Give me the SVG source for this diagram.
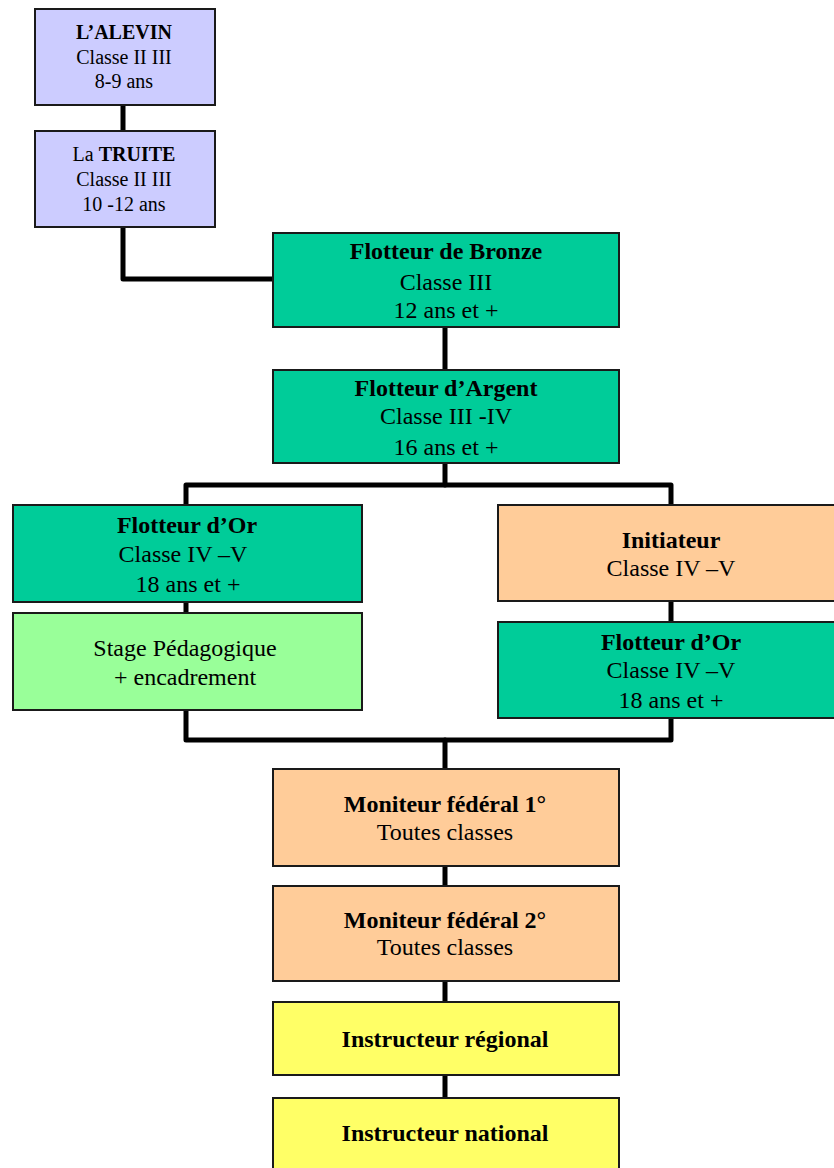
<svg xmlns="http://www.w3.org/2000/svg" width="834" height="1168" viewBox="0 0 834 1168">
<style>
.box{stroke:#1a1a1a;stroke-width:2}
.lav{fill:#CCCCFF}
.grn{fill:#00CC99}
.lgr{fill:#99FF99}
.pch{fill:#FFCC99}
.yel{fill:#FFFF66}
text{font-family:"Liberation Serif","Times New Roman",serif;fill:#000;text-anchor:middle}
.s{font-size:20px}
.m{font-size:24px}
.b{font-weight:bold}
.c{fill:none;stroke:#000;stroke-width:5;stroke-linecap:round;stroke-linejoin:round}
</style>
<rect width="834" height="1168" fill="#fff"/>
<g id="connectors">
<path class="c" d="M123 105V131"/>
<path class="c" d="M123 227V279H273"/>
<path class="c" d="M445 327V370"/>
<path class="c" d="M445 463V485"/>
<path class="c" d="M186 505V485H671V505"/>
<path class="c" d="M186 602V613"/>
<path class="c" d="M671 601V622"/>
<path class="c" d="M186 710V740H671V718"/>
<path class="c" d="M445 740V769"/>
<path class="c" d="M445 866V886"/>
<path class="c" d="M445 981V1002"/>
<path class="c" d="M445 1075V1098"/>
</g>
<g id="alevin">
<rect class="box lav" x="35" y="9" width="180" height="96"/>
<text class="s b" x="124" y="39">L’ALEVIN</text>
<text class="s" x="124" y="64">Classe II III</text>
<text class="s" x="124" y="88">8-9 ans</text>
</g>
<g id="truite">
<rect class="box lav" x="35" y="131" width="180" height="96"/>
<text class="s" x="124" y="161">La <tspan class="b">TRUITE</tspan></text>
<text class="s" x="124" y="186">Classe II III</text>
<text class="s" x="124" y="211">10 -12 ans</text>
</g>
<g id="bronze">
<rect class="box grn" x="273" y="233" width="346" height="94"/>
<text class="m b" x="446" y="259">Flotteur de Bronze</text>
<text class="m" x="446" y="290">Classe III</text>
<text class="m" x="446" y="318">12 ans et +</text>
</g>
<g id="argent">
<rect class="box grn" x="273" y="370" width="346" height="93"/>
<text class="m b" x="446" y="396">Flotteur d’Argent</text>
<text class="m" x="446" y="424">Classe III -IV</text>
<text class="m" x="446" y="455">16 ans et +</text>
</g>
<g id="or-gauche">
<rect class="box grn" x="13" y="505" width="349" height="97"/>
<text class="m b" x="187" y="533">Flotteur d’Or</text>
<text class="m" x="183" y="562">Classe IV –V</text>
<text class="m" x="188" y="592">18 ans et +</text>
</g>
<g id="stage">
<rect class="box lgr" x="13" y="613" width="349" height="97"/>
<text class="m" x="185" y="656">Stage Pédagogique</text>
<text class="m" x="185" y="685">+ encadrement</text>
</g>
<g id="initiateur">
<rect class="box pch" x="498" y="505" width="346" height="96"/>
<text class="m b" x="671" y="548">Initiateur</text>
<text class="m" x="671" y="576">Classe IV –V</text>
</g>
<g id="or-droite">
<rect class="box grn" x="498" y="622" width="346" height="96"/>
<text class="m b" x="671" y="650">Flotteur d’Or</text>
<text class="m" x="671" y="678">Classe IV –V</text>
<text class="m" x="671" y="708">18 ans et +</text>
</g>
<g id="moniteur1">
<rect class="box pch" x="273" y="769" width="346" height="97"/>
<text class="m b" x="445" y="812">Moniteur fédéral 1°</text>
<text class="m" x="445" y="840">Toutes classes</text>
</g>
<g id="moniteur2">
<rect class="box pch" x="273" y="886" width="346" height="95"/>
<text class="m b" x="445" y="928">Moniteur fédéral 2°</text>
<text class="m" x="445" y="955">Toutes classes</text>
</g>
<g id="regional">
<rect class="box yel" x="273" y="1002" width="346" height="73"/>
<text class="m b" x="445" y="1047">Instructeur régional</text>
</g>
<g id="national">
<rect class="box yel" x="273" y="1098" width="346" height="90"/>
<text class="m b" x="445" y="1141">Instructeur national</text>
</g>
</svg>
